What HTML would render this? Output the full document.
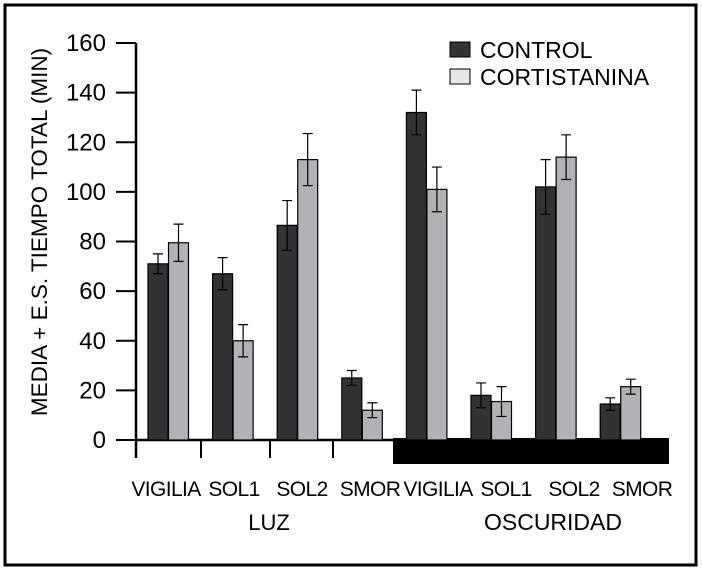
<!DOCTYPE html>
<html><head><meta charset="utf-8"><style>
body{margin:0;background:#fff}
svg{display:block;font-family:"Liberation Sans",sans-serif}
</style></head><body>
<svg width="702" height="571">
<rect x="5" y="5" width="691" height="560" fill="#fff" stroke="#000" stroke-width="3"/>
<g id="axes"></g><g id="bars"></g>
<text transform="translate(47,232) rotate(-90)" text-anchor="middle" font-size="22.5">MEDIA + E.S. TIEMPO TOTAL (MIN)</text>
<rect x="450" y="42" width="20" height="15" fill="#333" stroke="#000"/>
<text x="480" y="58" font-size="23">CONTROL</text>
<rect x="450" y="69" width="20" height="15" fill="#e6e6e6" stroke="#000"/>
<text x="480" y="85" font-size="23">CORTISTANINA</text>
<text x="269" y="530" text-anchor="middle" font-size="22">LUZ</text>
<text x="553" y="530" text-anchor="middle" font-size="23">OSCURIDAD</text>
</svg>
<script>
const categories=["VIGILIA","SOL1","SOL2","SMOR","VIGILIA","SOL1","SOL2","SMOR"];
const controlValues=[71,67,86.5,25,132,18,102,14.5];
const controlErrors=[4,6.5,10,3,9,5,11,2.5];
const cortValues=[79.5,40,113,12,101,15.5,114,21.5];
const cortErrors=[7.5,6.5,10.5,3,9,6,9,3];
const yTicks=[0,20,40,60,80,100,120,140,160];
const NS="http://www.w3.org/2000/svg";
const y=v=>440-v*(397/160);
const x=i=>148+i*64.6;
const lx=i=>166+i*68;
const ax=document.getElementById('axes'),bg=document.getElementById('bars');
function mk(t,a,p){const e=document.createElementNS(NS,t);for(const k in a)e.setAttribute(k,a[k]);p.appendChild(e);return e;}
let l=mk('line',{x1:136,y1:y(160),x2:136,y2:458,stroke:'#000','stroke-width':2.5},ax);


l=mk('line',{x1:136,y1:440,x2:395,y2:440,stroke:'#000','stroke-width':2.5},ax);


const band=mk('rect',{x:393,y:438,width:276,height:26,fill:'#000'},ax);


[136,201,270,333].forEach(px=>{const t=mk('line',{x1:px,y1:440,x2:px,y2:458,stroke:'#000','stroke-width':2},ax);

});
yTicks.forEach(v=>{const t=mk('line',{x1:116,y1:y(v),x2:136,y2:y(v),stroke:'#000','stroke-width':2},ax);


const tx=mk('text',{x:106,y:y(v)+8,'text-anchor':'end','font-size':24},ax);tx.textContent=v;

});
categories.forEach((c,i)=>{
 const tx=mk('text',{x:lx(i),y:496,'text-anchor':'middle','font-size':21,'letter-spacing':'-0.6'},ax);tx.textContent=c;
 
 
 [[controlValues,controlErrors,'#333',0,'control'],[cortValues,cortErrors,'#b3b1b5',20.5,'cortistanina']].forEach(([vs,es,col,off,nm])=>{
  const v=vs[i],e=es[i],bx=x(i)+off;
  const r=mk('rect',{x:bx,y:y(v),width:20,height:y(0)-y(v),fill:col,stroke:'#000','stroke-width':1.2},bg);
  
  
  const cx=bx+10;
  const eb=mk('path',{d:`M${cx},${y(v+e)}V${y(v-e)}M${cx-5},${y(v+e)}H${cx+5}M${cx-5},${y(v-e)}H${cx+5}`,stroke:'#000','stroke-width':1.2,fill:'none'},bg);
  
  
 });
});
</script>
</body></html>
